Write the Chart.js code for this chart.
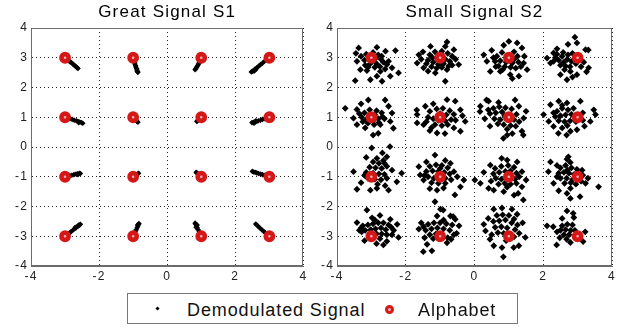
<!DOCTYPE html>
<html>
<head>
<meta charset="utf-8">
<script src="https://cdn.jsdelivr.net/npm/chart.js@4.4.0/dist/chart.umd.min.js"></script>
<style>
  body { margin: 0; background: #fff; width: 625px; height: 330px; position: relative; overflow: hidden;
         font-family: "Liberation Sans", Arial, sans-serif; }
  #c1 { position: absolute; left: 0; top: 0; }
  #c2 { position: absolute; left: 306px; top: 0; }
  #legend { position: absolute; left: 127px; top: 293px; width: 391px; height: 31px;
            border: 1px solid #777; box-sizing: border-box; background: #fff; }
  #legend span { position: absolute; top: 6.5px; font-size: 18px; line-height: 18px; letter-spacing: 0.9px; color: #111; white-space: nowrap; }
  .dot { position: absolute; left: 28px; top: 13px; width: 3px; height: 3px; background: #000; transform: rotate(45deg); }
  .ring { position: absolute; left: 257px; top: 10.5px; width: 9px; height: 9px; border-radius: 50%;
          border: 3px solid #d51a1a; box-sizing: border-box; background: #f0b0b0; }
</style>
</head>
<body>
<canvas id="c1" width="312" height="285"></canvas>
<canvas id="c2" width="319" height="285"></canvas>
<div id="legend">
  <div class="dot"></div><span style="left:59px">Demodulated Signal</span>
  <div class="ring"></div><span style="left:290px">Alphabet</span>
</div>
<script>
const xTicks = [-4, -2, 0, 2, 4];
const yTicks = [-4, -3, -2, -1, 0, 1, 2, 3, 4];

const alphabet = [
  [-3, 3], [-1, 3], [1, 3], [3, 3],
  [-3, 1], [-1, 1], [1, 1], [3, 1],
  [-3, -1], [-1, -1], [1, -1], [3, -1],
  [-3, -3], [-1, -3], [1, -3], [3, -3]
];

// Great Signal S1: short streaks off each symbol
const s1Row3 = [
  [-2.93,2.94],[-2.89,2.90],[-2.85,2.86],[-2.81,2.83],[-2.77,2.79],[-2.73,2.75],[-2.70,2.72],[-2.67,2.69],[-2.64,2.66],[-2.62,2.64],
  [-0.98,2.90],[-0.96,2.84],[-0.95,2.79],[-0.93,2.74],[-0.92,2.69],[-0.90,2.64],[-0.89,2.59],[-0.88,2.55],[-0.86,2.51],[-0.87,2.53],
  [0.98,2.92],[0.96,2.87],[0.94,2.83],[0.92,2.79],[0.90,2.75],[0.88,2.71],[0.86,2.67],[0.84,2.63],[0.82,2.60],
  [2.92,2.93],[2.86,2.88],[2.80,2.82],[2.74,2.77],[2.68,2.71],[2.63,2.66],[2.58,2.62],[2.53,2.57],[2.49,2.54],[2.55,2.55],[2.47,2.52],[2.60,2.60]
];
const s1Row1 = [
  [-2.91,0.97],[-2.85,0.95],[-2.79,0.93],[-2.73,0.90],[-2.67,0.88],[-2.62,0.86],[-2.57,0.84],[-2.52,0.82],[-2.48,0.80],[-2.60,0.82],
  [-0.95,0.94],[-0.92,0.91],[-0.89,0.87],[-0.86,0.83],
  [0.95,0.94],[0.92,0.91],[0.89,0.88],[0.87,0.86],
  [2.92,0.97],[2.86,0.95],[2.80,0.93],[2.74,0.90],[2.68,0.88],[2.63,0.86],[2.58,0.84],[2.53,0.83],[2.49,0.82],[2.60,0.88],[2.55,0.80]
];
const s1RowM1 = [
  [-2.92,-0.98],[-2.86,-0.96],[-2.80,-0.95],[-2.74,-0.93],[-2.68,-0.91],[-2.63,-0.90],[-2.58,-0.88],[-2.55,-0.89],[-2.62,-0.93],
  [-0.94,-0.96],[-0.90,-0.93],[-0.86,-0.90],[-0.84,-0.88],
  [0.94,-0.94],[0.90,-0.90],[0.87,-0.87],[0.85,-0.85],
  [2.92,-0.97],[2.86,-0.95],[2.80,-0.93],[2.74,-0.91],[2.68,-0.89],[2.63,-0.87],[2.58,-0.85],[2.54,-0.84],[2.50,-0.82]
];
const s1RowM3 = [
  [-2.92,-2.93],[-2.87,-2.89],[-2.82,-2.84],[-2.77,-2.80],[-2.72,-2.75],[-2.67,-2.71],[-2.62,-2.66],[-2.58,-2.63],[-2.55,-2.60],[-2.60,-2.62],[-2.70,-2.70],
  [-0.97,-2.92],[-0.94,-2.85],[-0.91,-2.78],[-0.88,-2.71],[-0.86,-2.65],[-0.84,-2.60],[-0.83,-2.57],[-0.87,-2.62],
  [0.97,-2.92],[0.94,-2.85],[0.91,-2.78],[0.88,-2.71],[0.86,-2.65],[0.84,-2.60],[0.82,-2.56],[0.88,-2.62],[0.85,-2.70],
  [2.93,-2.93],[2.88,-2.88],[2.83,-2.83],[2.78,-2.78],[2.73,-2.73],[2.68,-2.68],[2.64,-2.63],[2.60,-2.59]
];

// Small Signal S2: noisy clouds round each symbol
const s2Row3 = [
  [-3.37,3.33],[-3.45,3.15],[-2.84,3.35],[-2.59,3.22],[-2.30,3.24],[-3.42,2.88],[-3.32,2.60],[-3.13,2.57],[-2.74,2.54],[-2.55,2.77],
  [-2.40,2.66],[-2.21,2.49],[-2.84,2.38],[-2.69,2.21],[-3.03,2.26],[-3.47,2.23],[-2.45,2.38],
  [-3.15,3.12],[-2.95,3.18],[-2.80,3.10],[-3.20,2.92],[-2.72,2.95],[-2.65,2.85],[-2.85,2.80],[-3.05,2.78],[-2.90,2.68],
  [-2.75,2.70],[-3.18,2.75],[-2.60,2.62],[-2.98,2.88],[-3.30,3.05],[-2.70,3.05],[-2.88,2.98],[-3.10,2.68],[-2.50,2.88],
  [-1.62,3.10],[-1.67,2.82],[-1.50,3.20],[-1.28,3.38],[-0.80,3.53],[-0.85,3.38],[-0.60,3.27],[-0.65,3.05],[-0.46,2.77],[-0.80,2.60],
  [-1.48,2.66],[-1.14,2.49],[-0.85,2.21],[-1.35,2.55],[-0.55,2.95],[-1.55,2.95],
  [-1.30,3.10],[-1.15,3.20],[-0.95,3.22],[-0.78,3.15],[-1.35,2.92],[-1.20,2.85],[-1.05,2.78],[-0.90,2.80],[-0.72,2.88],
  [-1.25,2.70],[-1.10,2.65],[-0.95,2.68],[-0.75,2.72],[-1.40,2.80],[-1.05,3.05],[-0.85,2.95],[-1.22,3.00],[-0.65,2.75],
  [0.27,3.10],[0.36,2.88],[0.50,3.25],[1.00,3.55],[1.24,3.50],[1.38,3.33],[1.43,2.82],[1.53,2.60],[0.75,2.54],[0.46,2.54],
  [1.04,2.43],[1.29,2.38],[1.10,2.30],[0.62,2.70],[1.45,3.05],[0.85,3.42],
  [0.65,3.05],[0.80,3.18],[1.15,3.20],[1.25,3.05],[0.60,2.88],[0.75,2.90],[0.92,2.85],[1.10,2.82],[1.28,2.85],
  [0.70,2.72],[0.88,2.70],[1.05,2.68],[1.20,2.65],[0.55,3.00],[0.95,3.05],[1.15,2.95],[0.82,2.60],[1.35,2.70],
  [2.92,3.69],[2.98,3.50],[2.72,3.45],[2.30,3.16],[2.11,2.99],[2.21,2.82],[3.23,3.27],[3.31,3.26],[3.18,2.85],[3.32,2.66],
  [3.26,2.53],[2.79,2.54],[2.69,2.26],[2.98,2.43],[2.50,2.43],[2.85,2.35],[2.40,3.30],
  [2.35,3.00],[2.45,2.92],[2.55,3.05],[2.60,2.85],[2.72,3.10],[2.70,2.95],[2.85,3.15],[2.82,2.88],[2.50,2.75],
  [2.65,2.72],[2.95,2.80],[2.40,3.12],[2.58,3.18],[3.05,3.05],[2.30,2.88],[2.78,2.70],[3.10,2.70],[2.62,2.60]
];
const s2Row1 = [
  [-3.76,1.30],[-3.09,1.58],[-2.60,1.58],[-2.50,1.37],[-3.42,1.26],[-3.52,0.97],[-2.40,1.14],[-2.45,0.86],[-2.36,0.63],[-2.74,0.75],
  [-2.80,0.46],[-3.18,0.64],[-3.42,0.75],[-3.30,1.45],[-2.95,0.40],[-2.62,0.95],
  [-3.20,1.15],[-3.05,1.25],[-2.85,1.22],[-2.70,1.15],[-3.28,1.00],[-3.15,0.92],[-2.95,0.88],[-2.80,0.95],[-2.68,1.02],
  [-3.10,0.80],[-2.92,0.75],[-3.25,0.85],[-2.90,1.08],[-3.05,1.05],[-2.78,0.82],[-3.35,1.12],
  [-1.67,1.09],[-1.68,1.24],[-1.43,1.37],[-0.80,1.59],[-0.56,1.54],[-0.41,1.25],[-0.27,0.86],[-0.41,0.53],[-0.60,0.64],[-1.09,0.47],
  [-1.48,0.75],[-1.67,0.81],[-0.86,0.45],[-1.30,0.55],[-0.35,1.05],[-1.20,1.45],
  [-1.30,1.20],[-1.10,1.28],[-0.92,1.30],[-0.72,1.22],[-0.60,1.10],[-1.35,1.00],[-1.20,0.95],[-1.05,0.90],[-0.85,0.88],
  [-0.68,0.92],[-1.15,0.75],[-0.95,0.72],[-0.78,0.75],[-1.40,0.85],[-0.55,0.90],[-1.00,1.12],[-0.82,1.08],[-1.25,0.65],
  [0.16,1.19],[0.17,1.37],[0.41,1.54],[0.35,1.58],[1.18,1.58],[1.29,1.37],[1.43,0.97],[1.38,0.53],[1.42,0.40],[0.84,0.29],
  [0.95,0.40],[0.45,0.70],[0.30,0.95],[1.50,1.20],[0.70,1.50],[1.10,0.45],
  [0.55,1.30],[0.72,1.35],[0.90,1.32],[1.08,1.28],[0.45,1.12],[0.62,1.15],[0.80,1.18],[1.22,1.10],[0.58,0.95],
  [0.75,0.92],[1.15,0.92],[1.30,0.85],[0.68,0.78],[0.85,0.75],[1.05,0.72],[1.20,0.70],[0.95,0.60],[0.40,1.25],[0.88,1.05],
  [2.21,1.42],[2.45,1.54],[2.69,1.48],[3.08,1.54],[3.47,1.25],[3.52,1.09],[3.37,0.86],[2.98,0.58],[2.79,0.53],[2.55,0.64],
  [2.30,0.69],[2.16,0.86],[2.01,1.09],[2.44,0.46],[2.68,0.40],[3.20,0.70],
  [2.40,1.20],[2.55,1.30],[2.72,1.25],[2.88,1.30],[2.35,1.02],[2.50,1.05],[2.65,1.08],[2.82,1.10],[3.15,1.15],
  [2.45,0.88],[2.62,0.85],[2.78,0.88],[2.95,0.85],[3.15,0.90],[2.70,0.72],[2.55,1.40],[2.30,1.15]
];
const s2RowM1 = [
  [-2.46,0.01],[-2.99,-0.03],[-3.52,-0.83],[-2.84,-0.38],[-2.55,-0.33],[-2.40,-0.78],[-2.12,-0.88],[-2.26,-1.17],[-2.84,-1.39],[-3.03,-1.45],
  [-3.42,-1.42],[-2.50,-1.45],[-2.68,-0.20],[-3.15,-0.35],[-2.60,-1.30],[-3.30,-1.20],
  [-2.95,-0.50],[-2.78,-0.55],[-2.62,-0.55],[-3.05,-0.68],[-2.88,-0.70],[-2.70,-0.72],[-2.55,-0.65],[-3.15,-0.85],[-2.95,-0.88],
  [-2.78,-0.90],[-2.62,-0.92],[-3.10,-1.05],[-2.90,-1.08],[-2.72,-1.10],[-2.55,-1.05],[-3.20,-0.95],[-2.82,-1.25],[-2.65,-0.45],
  [-1.15,-0.27],[-1.62,-0.66],[-1.40,-0.50],[-0.85,-0.45],[-0.60,-0.83],[-0.31,-1.11],[-0.41,-1.34],[-0.90,-1.38],[-1.09,-1.45],[-1.58,-0.94],
  [-1.48,-1.11],[-1.15,-1.84],[-0.57,-1.61],[-0.70,-0.55],[-1.30,-1.40],[-0.50,-1.00],
  [-1.30,-0.65],[-1.12,-0.60],[-0.95,-0.62],[-0.78,-0.70],[-1.40,-0.82],[-1.22,-0.80],[-1.05,-0.82],[-0.88,-0.85],[-0.72,-0.90],
  [-1.35,-1.00],[-1.18,-1.05],[-0.85,-1.05],[-0.68,-1.10],[-1.25,-1.20],[-1.05,-1.22],[-0.85,-1.22],[-1.00,-0.72],[-1.45,-0.95],
  [0.01,-1.11],[0.17,-1.22],[0.27,-0.85],[0.46,-0.61],[0.79,-0.38],[0.95,-0.44],[1.24,-0.50],[1.38,-0.83],[1.50,-1.11],[1.38,-1.34],
  [1.27,-1.56],[1.42,-1.78],[0.56,-1.45],[0.41,-1.39],[0.85,-1.50],[1.15,-1.62],
  [0.60,-0.72],[0.78,-0.65],[0.98,-0.62],[1.15,-0.68],[0.55,-0.90],[0.72,-0.85],[0.90,-0.82],[1.22,-0.88],[1.30,-1.00],
  [0.62,-1.05],[0.78,-1.08],[1.18,-1.08],[0.70,-1.25],[0.88,-1.22],[1.05,-1.25],[1.22,-1.22],[0.95,-1.35],[0.48,-1.15],[1.05,-0.80],
  [2.21,-0.50],[2.73,-0.33],[2.69,-0.41],[2.79,-0.52],[3.13,-0.78],[3.23,-1.22],[3.61,-1.34],[3.07,-1.67],[2.79,-1.39],[2.69,-1.56],
  [2.79,-1.73],[2.45,-1.47],[2.30,-1.22],[2.15,-0.83],[2.40,-0.62],[3.30,-1.05],
  [2.50,-0.70],[2.65,-0.62],[2.82,-0.70],[2.98,-0.75],[2.45,-0.88],[2.60,-0.85],[2.75,-0.88],[2.90,-0.92],[3.15,-0.95],
  [2.50,-1.05],[2.68,-1.05],[2.85,-1.10],[3.10,-1.15],[2.62,-1.22],[2.80,-1.20],[2.95,-1.25],[2.40,-1.00],[2.70,-0.78]
];
const s2RowM3 = [
  [-3.13,-2.12],[-2.98,-2.38],[-3.42,-2.54],[-3.35,-2.80],[-2.45,-2.43],[-2.25,-2.60],[-2.21,-3.04],[-2.55,-3.17],[-2.65,-3.29],[-2.85,-3.25],
  [-3.28,-2.85],[-2.75,-2.30],[-3.20,-3.15],[-2.35,-2.80],
  [-3.25,-2.65],[-3.10,-2.62],[-2.95,-2.58],[-2.80,-2.55],[-2.65,-2.55],[-2.50,-2.62],[-3.18,-2.80],[-3.02,-2.78],[-2.88,-2.75],
  [-2.72,-2.72],[-2.58,-2.78],[-2.42,-2.70],[-2.85,-2.92],[-2.70,-2.92],[-2.55,-2.95],[-2.75,-3.08],[-2.40,-2.95],[-3.30,-2.72],[-2.90,-2.45],
  [-0.99,-2.09],[-0.91,-2.12],[-1.09,-2.32],[-0.70,-2.32],[-0.56,-2.43],[-0.62,-2.34],[-1.62,-2.76],[-1.38,-3.27],[-1.24,-3.49],[-1.49,-3.52],
  [-0.52,-2.90],[-0.45,-2.65],[-1.55,-2.55],[-0.80,-3.22],[-1.45,-3.05],
  [-1.35,-2.60],[-1.18,-2.55],[-1.00,-2.55],[-0.82,-2.58],[-0.65,-2.62],[-1.42,-2.80],[-1.25,-2.75],[-1.08,-2.72],[-0.90,-2.75],
  [-0.72,-2.80],[-0.60,-2.95],[-1.30,-2.95],[-1.12,-2.92],[-0.78,-3.05],[-0.68,-3.10],[-1.20,-3.08],[-0.90,-2.45],[-1.48,-2.68],
  [0.56,-2.09],[0.80,-2.05],[1.09,-2.09],[1.24,-2.26],[0.27,-2.60],[0.32,-2.82],[0.56,-3.32],[0.80,-3.38],[1.14,-3.38],[1.29,-3.32],
  [1.48,-3.04],[0.84,-3.69],[1.40,-2.55],[0.45,-3.10],[0.40,-2.40],
  [0.65,-2.30],[0.82,-2.28],[1.00,-2.30],[1.15,-2.42],[0.55,-2.50],[0.72,-2.48],[0.90,-2.45],[1.08,-2.55],[1.25,-2.62],
  [0.60,-2.70],[0.78,-2.68],[0.95,-2.72],[1.18,-2.78],[0.68,-2.88],[0.85,-2.90],[1.15,-3.02],[1.30,-2.90],[0.92,-3.15],[0.50,-2.95],
  [2.87,-2.23],[2.69,-2.15],[2.89,-2.37],[2.11,-2.65],[2.29,-2.68],[2.79,-3.21],[2.39,-3.29],[3.16,-3.18],[3.22,-2.85],[2.55,-2.40],
  [2.95,-3.05],
  [2.55,-2.65],[2.70,-2.60],[2.85,-2.62],[2.50,-2.80],[2.65,-2.78],[2.80,-2.80],[2.60,-2.95],[2.75,-2.95],[2.68,-3.10],
  [2.48,-3.05],[2.92,-2.80],[2.40,-2.85]
];

const toPts = (arr) => arr.map(([x, y]) => ({ x: x, y: y }));

// matlab style closed box round the axes
const boxPlugin = {
  id: "box",
  beforeDraw(chart) {
    chart.ctx.letterSpacing = "1.2px";
  },
  beforeDatasetsDraw(chart) {
    chart.ctx.letterSpacing = "0px";
  },
  afterDatasetsDraw(chart) {
    const a = chart.chartArea;
    const ctx = chart.ctx;
    ctx.save();
    ctx.strokeStyle = "#6b6b6b";
    ctx.lineWidth = 1;
    ctx.strokeRect(Math.round(a.left) + 0.5, Math.round(a.top) + 0.5,
      Math.round(a.right - a.left) - 1, Math.round(a.bottom - a.top) - 1);
    ctx.restore();
  }
};

function makeChart(id, title, demod, padRight, dotSize) {
  const ctx = document.getElementById(id).getContext("2d");
  return new Chart(ctx, {
    type: "scatter",
    data: {
      datasets: [
        {
          label: "Alphabet",
          data: toPts(alphabet),
          pointStyle: "circle",
          pointRadius: 3.6,
          pointBorderWidth: 4.6,
          pointBorderColor: "#d41818",
          pointBackgroundColor: "#f0b0b0",
        },
        {
          label: "Demodulated Signal",
          data: toPts(demod),
          pointStyle: "rectRot",
          pointRadius: dotSize,
          pointBorderWidth: 0,
          pointBackgroundColor: "#000",
        },
      ],
    },
    options: {
      responsive: false,
      animation: false,
      events: [],
      layout: { padding: { left: 0, right: padRight, top: 0, bottom: 0 } },
      plugins: {
        legend: { display: false },
        tooltip: { enabled: false },
        title: {
          display: true,
          fullSize: false,
          text: title,
          color: "#000",
          font: { family: "Liberation Sans", size: 17, weight: "normal" },
          padding: { top: 2, bottom: 5.6 },
        },
      },
      scales: {
        x: {
          type: "linear",
          min: -4,
          max: 4,
          afterBuildTicks: (axis) => { axis.ticks = xTicks.map((v) => ({ value: v })); },
          afterFit: (axis) => { axis.height = 19; axis.paddingLeft = 0; axis.paddingRight = 0; },
          grid: { color: "rgba(0,0,0,0.85)", drawTicks: false, lineWidth: 1 },
          border: { color: "#6b6b6b", dash: [1, 3] },
          ticks: { color: "#222", padding: 3, maxRotation: 0, autoSkip: false,
                   font: { family: "Liberation Sans", size: 12 } },
        },
        y: {
          type: "linear",
          min: -4,
          max: 4,
          afterBuildTicks: (axis) => { axis.ticks = yTicks.map((v) => ({ value: v })); },
          afterFit: (axis) => { axis.width = 31; axis.paddingTop = 0; axis.paddingBottom = 0; },
          grid: { color: "rgba(0,0,0,0.85)", drawTicks: false, lineWidth: 1 },
          border: { color: "#6b6b6b", dash: [1, 3] },
          ticks: { color: "#222", padding: 3, autoSkip: false,
                   font: { family: "Liberation Sans", size: 12 } },
        },
      },
    },
    plugins: [boxPlugin],
  });
}

makeChart("c1", "Great Signal S1", [].concat(s1Row3, s1Row1, s1RowM1, s1RowM3), 8, 2.8);
makeChart("c2", "Small Signal S2", [].concat(s2Row3, s2Row1, s2RowM1, s2RowM3), 13, 3.4);
</script>
</body>
</html>
